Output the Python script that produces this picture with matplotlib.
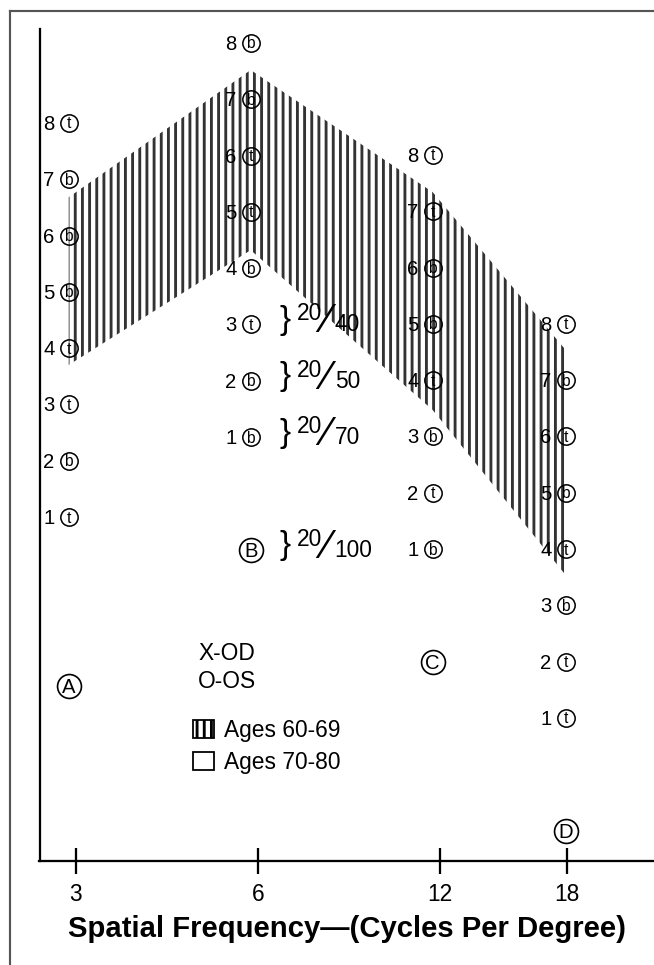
import matplotlib
matplotlib.use("Agg")
import matplotlib.pyplot as plt
from matplotlib.lines import Line2D
from matplotlib.patches import Patch

plt.rcParams["font.family"] = ["Liberation Sans", "DejaVu Sans"]
plt.rcParams["hatch.linewidth"] = 2.4

# spatial frequency ticks (cycles per degree) and where they sit on the axis
freqs = ["3", "6", "12", "18"]
freq_pos = [0.0, 1.0, 2.0, 2.7]

# chart columns A-D: x position and height of patch row 1 (row units)
col_names = ["A", "B", "C", "D"]
col_x = [-0.04, 0.96, 1.96, 2.69]
col_base = [1.0, 2.42, 0.43, -2.57]
name_drop = [3, 2, 2, 2]

# grating orientation of each patch, rows 8 down to 1
col_a = ["t", "b", "b", "b", "t", "t", "b", "t"]
col_b = ["b", "b", "t", "t", "b", "t", "b", "b"]
col_c = ["t", "t", "b", "b", "t", "b", "t", "b"]
col_d = ["t", "b", "t", "b", "t", "b", "t", "t"]
rows = [8, 7, 6, 5, 4, 3, 2, 1]

# normal band for ages 60-69, in row units at each column
band_upper = [6.68, 8.94, 6.77, 3.97]
band_lower = [3.70, 5.74, 2.90, -0.03]

# acuity equivalents beside column B
acuity_num = ["20", "20", "20", "20"]
acuity_den = ["40", "50", "70", "100"]
acuity_rows = [3, 2, 1, -1]

dpi = 86
fig = plt.figure(figsize=(654 / dpi, 965 / dpi), dpi=dpi)
ax = fig.add_axes([39.5 / 654, 1 - 861 / 965, 614.5 / 654, 832 / 965])
ax.set_xlim(-0.2005, 3.176)
ax.set_ylim(-5.11, 9.668)

# hatched band
ax.fill_between(col_x, band_lower, band_upper, facecolor="none",
                edgecolor="#333333", hatch="||", linewidth=0, zorder=1)

# patch labels: number + circled letter
for x, base, letters in zip(col_x, col_base, [col_a, col_b, col_c, col_d]):
    for r, ch in zip(rows, letters):
        y = base + r - 1
        ax.plot(x, y, "o", ms=14.5, mfc="none", mec="black", mew=1.3, zorder=3)
        ax.annotate(ch, (x, y), xytext=(0, -5.5), textcoords="offset pixels",
                    ha="center", va="baseline", fontsize=13, zorder=4)
        ax.annotate(str(r), (x, y), xytext=(-14, -7), textcoords="offset pixels",
                    ha="right", va="baseline", fontsize=17, zorder=4)

# column letters
for x, base, name, drop in zip(col_x, col_base, col_names, name_drop):
    y = base + 1 - drop - 1
    ax.plot(x, y, "o", ms=20, mfc="none", mec="black", mew=1.4, zorder=3)
    ax.annotate(name, (x, y), xytext=(0, -7), textcoords="offset pixels",
                ha="center", va="baseline", fontsize=17, zorder=4)

# acuity equivalents with braces
for num, den, r in zip(acuity_num, acuity_den, acuity_rows):
    anchor = (col_x[1], col_base[1] + r - 1)
    ax.annotate("}", anchor, xytext=(34, 4), textcoords="offset pixels",
                ha="center", va="center", fontsize=28)
    ax.annotate(num, anchor, xytext=(46, 4), textcoords="offset pixels",
                ha="left", va="baseline", fontsize=19)
    ax.annotate("\u2044", anchor, xytext=(76, 3), textcoords="offset pixels",
                ha="center", va="center", fontsize=34)
    ax.annotate(den, anchor, xytext=(84, -7), textcoords="offset pixels",
                ha="left", va="baseline", fontsize=19)

# key
ax.text(0.258, 0.25, "X-OD", transform=ax.transAxes, fontsize=19, va="center")
ax.text(0.258, 0.216, "O-OS", transform=ax.transAxes, fontsize=19, va="center")
handles = [Patch(facecolor="white", edgecolor="black", hatch="||", lw=1.5),
           Patch(facecolor="white", edgecolor="black", lw=1.5)]
ax.legend(handles, ["Ages 60-69", "Ages 70-80"], loc="upper left",
          bbox_to_anchor=(0.2498, 0.1707), frameon=False, borderpad=0,
          borderaxespad=0, handlelength=0.93, handleheight=0.84,
          handletextpad=0.42, labelspacing=0.4, fontsize=19)

# axes
ax.spines[["top", "right"]].set_visible(False)
ax.spines[["left", "bottom"]].set_linewidth(1.9)
ax.set_yticks([])
ax.set_xticks(freq_pos)
ax.set_xticklabels(freqs)
ax.tick_params(axis="x", direction="inout", length=21.8, width=1.9,
               pad=7.5, labelsize=19)

fig.text(347 / 654, 1 - 937 / 965, "Spatial Frequency\u2014(Cycles Per Degree)",
         ha="center", va="baseline", fontsize=24.5, fontweight="bold")

# page border
fig.add_artist(Line2D([10 / 654, 10 / 654], [0, 1 - 11 / 965], color="#555555", lw=1.8))
fig.add_artist(Line2D([10 / 654, 1], [1 - 11 / 965, 1 - 11 / 965], color="#555555", lw=1.8))

fig.savefig("out.png", dpi=dpi)
